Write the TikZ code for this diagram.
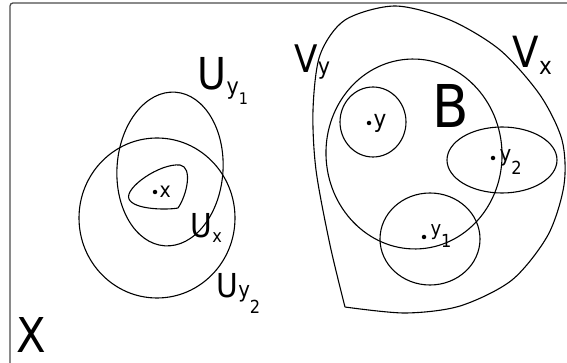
\documentclass[tikz,border=0pt]{standalone}
\usepackage{fontspec}
\setmainfont{DejaVu Sans Condensed}
\newcommand{\fsz}[1]{\fontsize{#1}{#1}\selectfont}

\begin{document}
\begin{tikzpicture}[x=1pt, y=-1pt, line width=1.1pt,
  pt/.style={circle, fill=black, inner sep=0pt, minimum size=4.5pt},
  lbl/.style={inner sep=0pt, anchor=base west}]
\useasboundingbox (0,0) rectangle (567,363);

% frame of X
\draw[black!70, line width=1.3pt, rounded corners=3pt] (10,363) -- (10,3) -- (567,3);

% neighbourhoods of x
\draw[rotate around={-4:(170,169)}] (170,169) ellipse [x radius=53, y radius=77];
\draw (157,218) ellipse [x radius=78, y radius=80];
\draw (178,208) .. controls (168,210) and (134,210) .. (129,199)
  .. controls (124,188) and (160,163) .. (180,165)
  .. controls (193,167) and (187,195) .. (178,208);

% neighbourhoods of B
\draw plot[smooth] coordinates {(345,307) (330,245) (316,170) (313,110) (320,55)
  (345,20) (395,6) (450,20) (500,50) (540,95) (562,140) (564,185) (548,235)
  (512,280) (460,306) (405,313) (345,307)};
\draw[rotate around={4:(414,154)}] (414,154) ellipse [x radius=88, y radius=95];
\draw (373,122) ellipse [x radius=33, y radius=35];
\draw (502,160) ellipse [x radius=55, y radius=33];
\draw (430,239) ellipse [x radius=50, y radius=46];

% points
\node[pt] (px) at (155,192) {};
\node[lbl] (lx) at (159,198) {\fsz{21}x};
\node[pt] (py) at (369,123) {};
\node[lbl] (ly) at (373,128) {\fsz{24}y};
\node[pt] (py2) at (493,158) {};
\node[lbl] (ly2) at (499,162) {\fsz{22}y\raisebox{-13pt}{\fsz{18}2}};
\node[pt] (py1) at (424,237) {};
\node[lbl] (ly1) at (430,236) {\fsz{20}y\raisebox{-12pt}{\fsz{18}1}};

% set labels
\node[lbl] (X) at (16,352) {\fsz{48}X};
\node[lbl] (Uy1) at (197,90) {\fsz{44}U\raisebox{-4.5pt}{\fsz{23}y\raisebox{-10.5pt}{\fsz{16}1}}};
\node[lbl] (Ux) at (190,238) {\fsz{33}U\raisebox{-5pt}{\fsz{18}x}};
\node[lbl] (Uy2) at (216,297) {\fsz{33}U{\fsz{22}y\raisebox{-16pt}{\fsz{18}2}}};
\node[lbl] (Vy) at (294,73) {\fsz{38}V\raisebox{-1.5pt}{\fsz{23}y}};
\node[lbl] (Vx) at (512,68) {\fsz{43}V\raisebox{-7pt}{\fsz{24}x}};
\node[lbl] (B) at (432,128) {\fsz{59}B};
\end{tikzpicture}
\end{document}
